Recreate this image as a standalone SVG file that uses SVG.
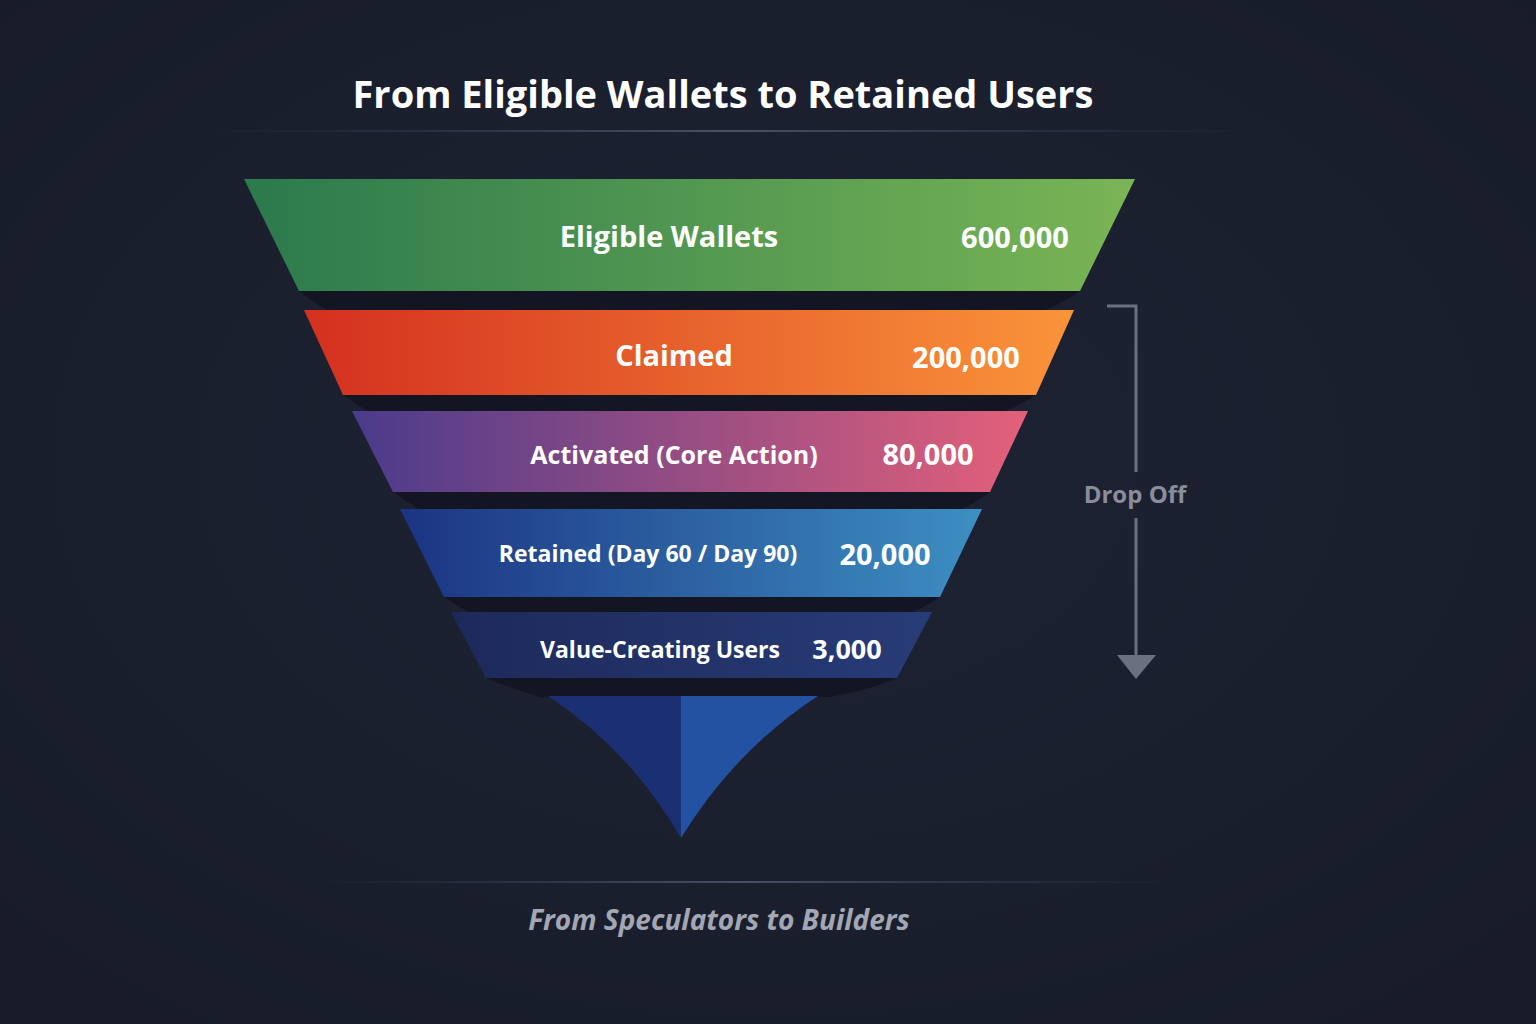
<svg xmlns="http://www.w3.org/2000/svg" width="1536" height="1024" viewBox="0 0 1536 1024">
<defs>
<radialGradient id="bg" cx="0.5" cy="0.45" r="0.7"><stop offset="0" stop-color="#1e2334"/><stop offset="1" stop-color="#181c29"/></radialGradient>
<linearGradient id="g1" x1="0" x2="1" y1="0" y2="0"><stop offset="0" stop-color="#2b7a4d"/><stop offset="1" stop-color="#7ab555"/></linearGradient>
<linearGradient id="g2" x1="0" x2="1" y1="0" y2="0"><stop offset="0" stop-color="#d4301f"/><stop offset="1" stop-color="#fa943a"/></linearGradient>
<linearGradient id="g3" x1="0" x2="1" y1="0" y2="0"><stop offset="0" stop-color="#4a3b8c"/><stop offset="1" stop-color="#e4607a"/></linearGradient>
<linearGradient id="g4" x1="0" x2="1" y1="0" y2="0"><stop offset="0" stop-color="#1c3482"/><stop offset="1" stop-color="#3d8fc2"/></linearGradient>
<linearGradient id="g5" x1="0" x2="1" y1="0" y2="0"><stop offset="0" stop-color="#1d295a"/><stop offset="1" stop-color="#283c78"/></linearGradient>
<linearGradient id="ln" x1="0" x2="1"><stop offset="0" stop-color="#3a3f50" stop-opacity="0"/><stop offset="0.5" stop-color="#4a5064"/><stop offset="1" stop-color="#3a3f50" stop-opacity="0"/></linearGradient>
<style>
.t{font-family:"Open Sans","Liberation Sans",sans-serif;font-weight:700;fill:#fff;text-anchor:middle}
.sh{fill:#10131d;opacity:0.7}
</style>
</defs>
<rect width="1536" height="1024" fill="url(#bg)"/>
<text class="t" x="723" y="108" font-size="38">From Eligible Wallets to Retained Users</text>
<rect x="200" y="130" width="1060" height="2" fill="url(#ln)"/>
<g id="shadows">
<path class="sh" d="M299 291 L1080 291 Q1060 305 1040 312 L330 312 Q310 300 299 291Z"/>
<path class="sh" d="M343 395 L1036 395 Q1020 406 1000 413 L370 413 Q355 403 343 395Z"/>
<path class="sh" d="M393 492 L990 492 Q975 503 960 510 L420 510 Q405 500 393 492Z"/>
<path class="sh" d="M444 597 L940 597 Q925 607 910 613 L470 613 Q455 604 444 597Z"/>
<path class="sh" d="M486 678 L897 678 Q870 690 830 697 L540 697 Q510 688 486 678Z"/>
</g>
<g id="n1"><path d="M244 179 L1135 179 L1080 291 L299 291Z" fill="url(#g1)"/>
<text class="t" x="669" y="247" font-size="29">Eligible Wallets</text><text class="t" x="1015" y="248" font-size="29">600,000</text></g>
<g id="n2"><path d="M304 310 L1074 310 L1036 395 L343 395Z" fill="url(#g2)"/>
<text class="t" x="674" y="366" font-size="29">Claimed</text><text class="t" x="966" y="368" font-size="29">200,000</text></g>
<g id="n3"><path d="M352 411 L1028 411 L990 492 L393 492Z" fill="url(#g3)"/>
<text class="t" x="674" y="464" font-size="25">Activated (Core Action)</text><text class="t" x="928" y="465" font-size="29">80,000</text></g>
<g id="n4"><path d="M400 509 L982 509 L940 597 L444 597Z" fill="url(#g4)"/>
<text class="t" x="648" y="562" font-size="23">Retained (Day 60 / Day 90)</text><text class="t" x="885" y="565" font-size="29">20,000</text></g>
<g id="n5"><path d="M451 612 L932 612 L897 678 L486 678Z" fill="url(#g5)"/>
<text class="t" x="660" y="658" font-size="23">Value-Creating Users</text><text class="t" x="847" y="659" font-size="27">3,000</text></g>
<g id="tip">
<path d="M548 696 L681 696 L681 838 Q630 750 548 696Z" fill="#1a3073"/>
<path d="M681 696 L818 696 Q735 750 681 838Z" fill="#2352a2"/>
</g>
<g id="connectors" stroke="#6b7080" stroke-width="3" fill="none">
<path d="M1107 306 L1136 306 L1136 472"/>
<path d="M1136 518 L1136 656"/>
<path d="M1117 655 L1156 655 L1136 679Z" fill="#6b7080" stroke="none"/>
</g>
<text x="1135" y="503" font-size="24" font-family="Open Sans,Liberation Sans,sans-serif" font-weight="700" fill="#8a8e9c" text-anchor="middle">Drop Off</text>
<rect x="310" y="881" width="870" height="2" fill="url(#ln)"/>
<text x="719" y="930" font-size="28" font-style="italic" font-family="Open Sans,Liberation Sans,sans-serif" font-weight="700" fill="#a3a7b3" text-anchor="middle">From Speculators to Builders</text>
</svg>
